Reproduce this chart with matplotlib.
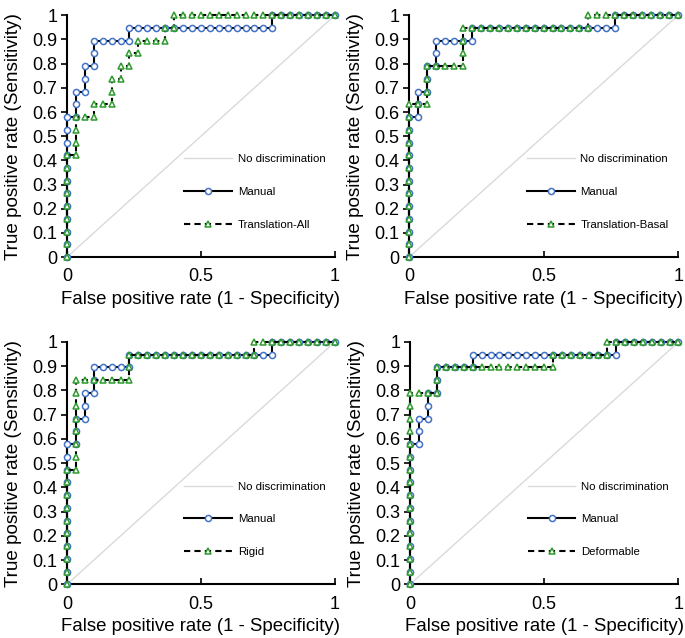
import numpy as np
import matplotlib.pyplot as plt

plt.rcParams["font.family"] = ["Liberation Sans", "DejaVu Sans"]

# cases ranked by decreasing score: 1 = positive (n=19), 0 = negative (n=30)
manual_ranked = "11111111111" "0" "11" "0" "11" "0" "11" "0000" "1" "0000000000000000" "1" "0000000"
trans_all_ranked = "11111111" "0" "111" "00" "1" "00" "11" "0" "1" "0" "1" "0" "1" "000" "1" "0" "1" "000000000000000000"
trans_basal_ranked = "111111111111" "00" "111" "0000" "111" "00000000000000" "1" "0000000000"
rigid_ranked = "111111111" "0" "1111111" "000000" "11" "00000000000000" "1" "000000000"
deformable_ranked = "111111111111111" "000" "11" "0000000000000" "1" "000000" "1" "00000000"

methods = ["Translation-All", "Translation-Basal", "Rigid", "Deformable"]
method_ranked = [trans_all_ranked, trans_basal_ranked, rigid_ranked, deformable_ranked]

y_ticks = [0, 0.1, 0.2, 0.3, 0.4, 0.5, 0.6, 0.7, 0.8, 0.9, 1]
x_ticks = [0, 0.5, 1]


def RocPoints(ranked):
    lab = np.array([int(c) for c in ranked])
    tp = np.concatenate([[0], np.cumsum(lab)])
    fp = np.concatenate([[0], np.cumsum(1 - lab)])
    return fp / fp[-1], tp / tp[-1]


def Fmt(v):
    return "%g" % v


fig = plt.figure(figsize=(6.85, 6.38), dpi=100)
positions = [
    [0.0978, 0.597, 0.391, 0.379],
    [0.597, 0.597, 0.393, 0.379],
    [0.0978, 0.084, 0.391, 0.380],
    [0.5985, 0.084, 0.392, 0.380],
]

blue = "#4472C4"
green = "#2E9A2E"

for i in range(4):
    ax = fig.add_axes(positions[i])
    ax.plot([0, 1], [0, 1], color="#DADADA", lw=1, label="No discrimination")
    fx, fy = RocPoints(manual_ranked)
    ax.plot(fx, fy, color="black", lw=1.5, marker="o", ms=4.4, mfc="white",
            mec=blue, mew=1.1, label="Manual", clip_on=False, zorder=3)
    gx, gy = RocPoints(method_ranked[i])
    ax.plot(gx, gy, color="black", lw=1.5, ls=(0, (3, 2)), marker="^", ms=4.6,
            mfc="white", mec=green, mew=1.1, label=methods[i], clip_on=False, zorder=4)

    ax.set_xlim(0, 1)
    ax.set_ylim(0, 1)
    ax.set_xticks(x_ticks)
    ax.set_xticklabels([Fmt(v) for v in x_ticks])
    ax.set_yticks(y_ticks)
    ax.set_yticklabels([Fmt(v) for v in y_ticks])
    ax.spines["top"].set_visible(False)
    ax.spines["right"].set_visible(False)
    ax.spines["left"].set_linewidth(1.5)
    ax.spines["bottom"].set_linewidth(1.5)
    ax.tick_params(axis="y", direction="out", length=4, width=1.2, labelsize=13, pad=3)
    ax.tick_params(axis="x", direction="in", length=4, width=1.2, labelsize=13, pad=8)
    ax.set_xlabel("False positive rate (1 - Specificity)", fontsize=13.4, labelpad=4)
    ax.set_ylabel("True positive rate (Sensitivity)", fontsize=13.6, labelpad=7)
    ax.legend(loc="lower left", bbox_to_anchor=(0.4, 0.07), frameon=False,
              fontsize=8.2, handlelength=4.2, labelspacing=2.0, handletextpad=0.5)

plt.savefig("out.png", dpi=100)
plt.close()
